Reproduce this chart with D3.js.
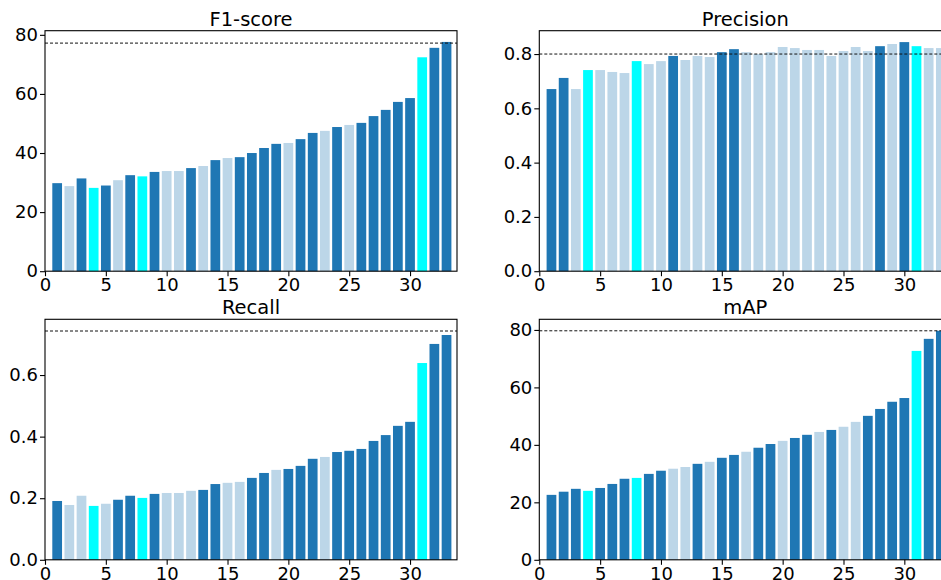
<!DOCTYPE html>
<html>
<head>
<meta charset="utf-8">
<script src="https://cdn.jsdelivr.net/npm/d3@7"></script>
<style>
  html, body { margin: 0; padding: 0; background: #fff; overflow: hidden; }
  svg { display: block; font-family: "DejaVu Sans", sans-serif; }
</style>
</head>
<body>
<div id="chart"></div>
<script>
/* 2x2 sorted bar panels — D3 v7 */

var ranks = [1, 2, 3, 4, 5, 6, 7, 8, 9, 10, 11, 12, 13, 14, 15, 16, 17, 18, 19, 20,
             21, 22, 23, 24, 25, 26, 27, 28, 29, 30, 31, 32, 33];
var xTicks = [0, 5, 10, 15, 20, 25, 30];

// group codes: d = main, l = faded, c = highlighted
var f1Values = [29.8, 28.8, 31.4, 28.2, 29.0, 30.8, 32.5, 32.1, 33.6, 33.9, 33.9, 34.9, 35.6, 37.6, 38.3, 38.6, 40.0,
                41.7, 43.1, 43.4, 44.7, 46.8, 47.5, 48.8, 49.5, 50.2, 52.5, 54.6, 57.3, 58.6, 72.4, 75.6, 77.6];
var f1Groups = ["d","l","d","c","d","l","d","c","d","l","l","d","l","d","l","d","d",
                "d","d","l","d","d","l","d","l","d","d","d","d","d","c","d","d"];
var f1Ref = 77.2;
var f1Ticks = [0, 20, 40, 60, 80];

var precValues = [0.671, 0.712, 0.671, 0.741, 0.741, 0.734, 0.730, 0.774, 0.763, 0.774, 0.793, 0.778, 0.793, 0.789, 0.807, 0.818, 0.807,
                  0.800, 0.807, 0.826, 0.822, 0.815, 0.815, 0.793, 0.811, 0.826, 0.811, 0.829, 0.837, 0.844, 0.829, 0.822, 0.822];
var precGroups = ["d","d","l","c","l","l","l","c","l","l","d","l","l","l","d","d","l",
                  "l","l","l","l","l","l","l","l","l","l","d","l","d","c","l","l"];
var precRef = 0.80;
var precTicks = [0.0, 0.2, 0.4, 0.6, 0.8];

var recValues = [0.191, 0.178, 0.208, 0.175, 0.182, 0.195, 0.208, 0.201, 0.214, 0.217, 0.217, 0.224, 0.227, 0.246, 0.250, 0.253, 0.266,
                 0.282, 0.292, 0.295, 0.305, 0.328, 0.334, 0.350, 0.354, 0.360, 0.386, 0.405, 0.435, 0.448, 0.639, 0.701, 0.730];
var recGroups = ["d","l","l","c","l","d","d","c","d","l","l","l","d","d","l","l","d",
                 "d","l","d","d","d","l","d","d","d","d","d","d","d","c","d","d"];
var recRef = 0.743;
var recTicks = [0.0, 0.2, 0.4, 0.6];

var mapValues = [22.6, 23.7, 24.7, 24.0, 25.0, 26.4, 28.2, 28.5, 29.9, 31.0, 31.7, 32.3, 33.4, 34.1, 35.5, 36.5, 37.6,
                 39.0, 40.3, 41.4, 42.4, 43.5, 44.5, 45.2, 46.3, 48.0, 50.1, 52.5, 55.0, 56.3, 72.7, 76.9, 79.7];
var mapGroups = ["d","d","d","c","d","d","d","c","d","d","l","l","d","l","d","d","l",
                 "d","d","l","d","d","l","d","l","l","d","d","d","d","c","d","d"];
var mapRef = 79.7;
var mapTicks = [0, 20, 40, 60, 80];

(function () {
  "use strict";

  var W = 941, H = 580;
  var color = d3.scaleOrdinal().domain(["d", "l", "c"]).range(["#1f77b4", "#bcd6e8", "#00ffff"]);

  var svg = d3.select("#chart").append("svg").attr("width", W).attr("height", H);

  var panels = [
    { title: "F1-score",  values: f1Values,   groups: f1Groups,   ref: f1Ref,   ticks: f1Ticks,   fmt: d3.format("d"),   x: 45,    y: 30.7,  ymax: 81.4 },
    { title: "Precision", values: precValues, groups: precGroups, ref: precRef, ticks: precTicks, fmt: d3.format(".1f"), x: 539.3, y: 30.7,  ymax: 0.886 },
    { title: "Recall",    values: recValues,  groups: recGroups,  ref: recRef,  ticks: recTicks,  fmt: d3.format(".1f"), x: 45,    y: 319.3, ymax: 0.781 },
    { title: "mAP",       values: mapValues,  groups: mapGroups,  ref: mapRef,  ticks: mapTicks,  fmt: d3.format("d"),   x: 539.3, y: 319.3, ymax: 83.7 }
  ];
  var pw = 412, ph = 240.5;

  panels.forEach(function (p) {
    var g = svg.append("g").attr("transform", "translate(" + p.x + "," + p.y + ")");
    var x = d3.scaleLinear().domain([0, 33.86]).range([0, pw]);
    var y = d3.scaleLinear().domain([0, p.ymax]).range([ph, 0]);
    var bw = x(0.8) - x(0);

    // ── Bars ──────────────────────────────────────────────────────────────
    g.selectAll("rect.bar").data(ranks).enter().append("rect").attr("class", "bar")
      .attr("x", function (d) { return x(d) - bw / 2; })
      .attr("y", function (d, i) { return y(p.values[i]); })
      .attr("width", bw)
      .attr("height", function (d, i) { return y(0) - y(p.values[i]); })
      .attr("fill", function (d, i) { return color(p.groups[i]); });

    // ── Reference line ────────────────────────────────────────────────────
    g.append("line")
      .attr("x1", 0).attr("x2", pw)
      .attr("y1", y(p.ref)).attr("y2", y(p.ref))
      .attr("stroke", "#111").attr("stroke-width", 1).attr("stroke-dasharray", "3,2");

    // ── Frame + axes ──────────────────────────────────────────────────────
    g.append("rect").attr("width", pw).attr("height", ph)
      .attr("fill", "none").attr("stroke", "#000").attr("stroke-width", 1.1);

    var gX = g.append("g").attr("transform", "translate(0," + ph + ")")
      .call(d3.axisBottom(x).tickValues(xTicks).tickSize(5).tickPadding(2).tickFormat(d3.format("d")));
    var gY = g.append("g")
      .call(d3.axisLeft(y).tickValues(p.ticks).tickSize(5).tickPadding(2).tickFormat(p.fmt));
    [gX, gY].forEach(function (a) {
      a.select(".domain").remove();
      a.selectAll("line").attr("stroke", "#000").attr("stroke-width", 1.1);
      a.selectAll("text").attr("fill", "#000")
        .style("font-family", "DejaVu Sans").style("font-size", "18px");
    });

    g.append("text").attr("x", pw / 2).attr("y", -5)
      .attr("text-anchor", "middle").attr("fill", "#000")
      .style("font-size", "19.5px").text(p.title);
  });
})();
</script>
</body>
</html>
